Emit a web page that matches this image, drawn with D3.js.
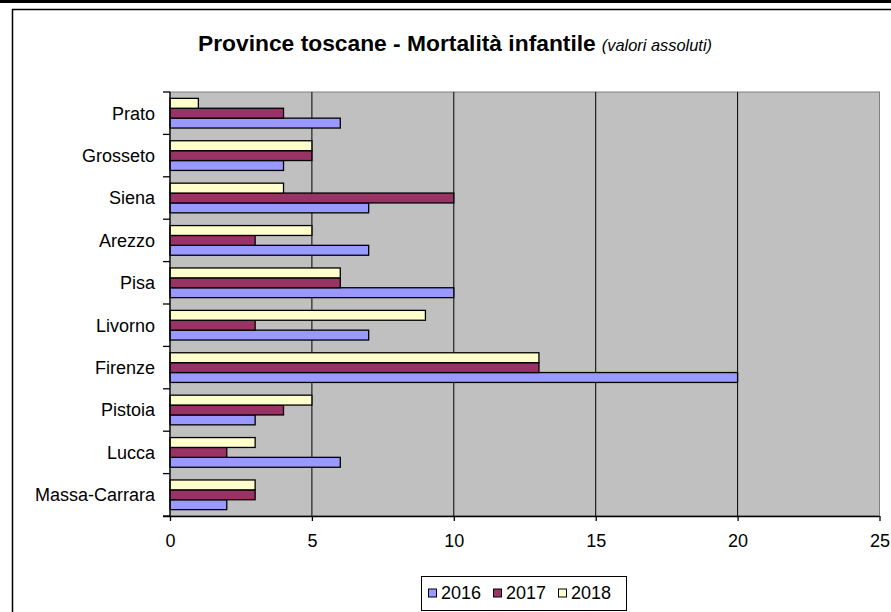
<!DOCTYPE html>
<html>
<head>
<meta charset="utf-8">
<script src="https://d3js.org/d3.v7.min.js"></script>
<style>
  body { margin: 0; background: #fff; }
  text { font-family: Arial, "Liberation Sans", sans-serif; }
</style>
</head>
<body>
<script>
// data
var province = ["Prato", "Grosseto", "Siena", "Arezzo", "Pisa", "Livorno", "Firenze", "Pistoia", "Lucca", "Massa-Carrara"];
var anni = ["2016", "2017", "2018"];
var v2016 = [6, 4, 7, 7, 10, 7, 20, 3, 6, 2];
var v2017 = [4, 5, 10, 3, 6, 3, 13, 4, 2, 3];
var v2018 = [1, 5, 4, 5, 6, 9, 13, 5, 3, 3];
var xTicks = [0, 5, 10, 15, 20, 25];
var colori = ["#9999FF", "#993366", "#FFFFCC"];

var serie = [v2016, v2017, v2018];
var rows = province.map(function(p, i) {
    return { name: p, values: anni.map(function(a, j) { return { anno: a, v: serie[j][i] }; }) };
});

var width = 891, height = 612;
// plot area edges (avoid "top", it's window.top)
var pLeft = 170, pRight = 879.5, pTop = 92, pBottom = 516;

var svg = d3.select("body")
    .append("svg")
    .attr("width", width)
    .attr("height", height);

// outer frame
svg.append("rect").attr("x", 0).attr("y", 0).attr("width", width).attr("height", 3).attr("fill", "#000");
svg.append("path")
    .attr("d", "M12.5," + height + "V9.5H" + width)
    .attr("fill", "none").attr("stroke", "#000").attr("stroke-width", 1.5);

// title
var title = svg.append("text")
    .attr("x", 198).attr("y", 51);
title.append("tspan").attr("font-weight", "bold").attr("font-size", "22.8px").text("Province toscane - Mortalità infantile");
title.append("tspan").attr("font-style", "italic").attr("font-size", "16.4px").attr("dx", 6).text("(valori assoluti)");

var xScale = d3.scaleLinear().domain([0, 25]).range([pLeft, pRight]);
var yScale = d3.scaleBand().domain(province).range([pTop, pBottom]).paddingInner(0.3).paddingOuter(0.15);
var ySub = d3.scaleBand().domain(["2018", "2017", "2016"]).range([0, yScale.bandwidth()]);
var color = d3.scaleOrdinal().domain(anni).range(colori);

// plot background
svg.append("rect")
    .attr("x", pLeft).attr("y", pTop)
    .attr("width", pRight - pLeft).attr("height", pBottom - pTop)
    .attr("fill", "#C0C0C0").attr("stroke", "#808080").attr("stroke-width", 1);

// gridlines
svg.selectAll("line.grid")
    .data(xTicks.slice(1, -1))
    .enter()
    .append("line")
    .attr("class", "grid")
    .attr("x1", function(d) { return xScale(d); })
    .attr("x2", function(d) { return xScale(d); })
    .attr("y1", pTop).attr("y2", pBottom)
    .attr("stroke", "#000").attr("stroke-width", 1);

// bars
var groups = svg.selectAll("g.prov")
    .data(rows)
    .enter()
    .append("g")
    .attr("class", "prov")
    .attr("transform", function(d) { return "translate(0," + yScale(d.name) + ")"; });

groups.selectAll("rect")
    .data(function(d) { return d.values; })
    .enter()
    .append("rect")
    .attr("x", xScale(0))
    .attr("y", function(d) { return ySub(d.anno); })
    .attr("width", function(d) { return xScale(d.v) - xScale(0); })
    .attr("height", ySub.bandwidth())
    .attr("fill", function(d) { return color(d.anno); })
    .attr("stroke", "#000")
    .attr("stroke-width", 1.3);

// x axis
var xAxis = d3.axisBottom(xScale).tickValues(xTicks).tickSize(5).tickPadding(13).tickSizeOuter(0);
var gx = svg.append("g")
    .attr("transform", "translate(0," + pBottom + ")")
    .call(xAxis);
gx.select(".domain").attr("d", "M163,0.5H" + pRight).attr("stroke-width", 1.3);
gx.selectAll("line").attr("stroke-width", 1.3);
gx.selectAll("text").attr("font-size", "18px").attr("fill", "#000")
    .attr("font-family", "Arial, 'Liberation Sans', sans-serif");

// y axis: ticks at category boundaries, labels centered
var bounds = d3.range(province.length + 1).map(function(i) { return pTop + i * (pBottom - pTop) / province.length; });
svg.append("line").attr("x1", pLeft).attr("x2", pLeft).attr("y1", pTop).attr("y2", pBottom)
    .attr("stroke", "#000").attr("stroke-width", 1.3);
svg.selectAll("line.ytick")
    .data(bounds)
    .enter()
    .append("line")
    .attr("class", "ytick")
    .attr("x1", pLeft - 7).attr("x2", pLeft)
    .attr("y1", function(d) { return d; }).attr("y2", function(d) { return d; })
    .attr("stroke", "#000").attr("stroke-width", 1.3);
svg.selectAll("text.ylab")
    .data(province)
    .enter()
    .append("text")
    .attr("class", "ylab")
    .attr("x", 155)
    .attr("y", function(d) { return yScale(d) + yScale.bandwidth() / 2; })
    .attr("dy", "0.35em")
    .attr("text-anchor", "end")
    .attr("font-size", "18px")
    .text(function(d) { return d; });

// legend
var legend = svg.append("g");
legend.append("rect")
    .attr("x", 421.5).attr("y", 576.5).attr("width", 205).attr("height", 34)
    .attr("fill", "#fff").attr("stroke", "#000").attr("stroke-width", 1);
var legX = [428, 493, 558];
var items = legend.selectAll("g.item")
    .data(anni)
    .enter()
    .append("g")
    .attr("class", "item")
    .attr("transform", function(d, i) { return "translate(" + legX[i] + ",0)"; });
items.append("rect")
    .attr("x", 0.5).attr("y", 589).attr("width", 8).attr("height", 8)
    .attr("fill", function(d) { return color(d); })
    .attr("stroke", "#000").attr("stroke-width", 1);
items.append("text")
    .attr("x", 13).attr("y", 598.5)
    .attr("font-size", "18px")
    .text(function(d) { return d; });
</script>
</body>
</html>
